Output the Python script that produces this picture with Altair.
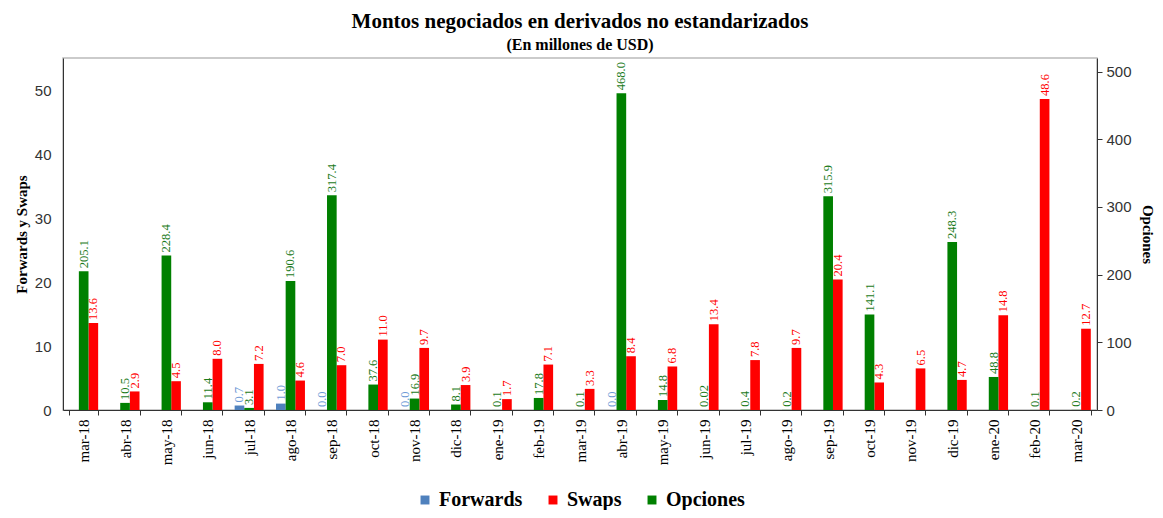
import altair as alt
import pandas as pd

months = ["mar-18", "abr-18", "may-18", "jun-18", "jul-18", "ago-18", "sep-18", "oct-18",
          "nov-18", "dic-18", "ene-19", "feb-19", "mar-19", "abr-19", "may-19", "jun-19",
          "jul-19", "ago-19", "sep-19", "oct-19", "nov-19", "dic-19", "ene-20", "feb-20", "mar-20"]

forwards = [None, None, None, None, 0.7, 1.0, 0.0, None, 0.0, None, None, None, None,
            0.0, None, None, None, None, None, None, None, None, None, None, None]
swaps = [13.6, 2.9, 4.5, 8.0, 7.2, 4.6, 7.0, 11.0, 9.7, 3.9, 1.7, 7.1, 3.3,
         8.4, 6.8, 13.4, 7.8, 9.7, 20.4, 4.3, 6.5, 4.7, 14.8, 48.6, 12.7]
opciones = [205.1, 10.5, 228.4, 11.4, 3.1, 190.6, 317.4, 37.6, 16.9, 8.1, 0.1, 17.8, 0.1,
            468.0, 14.8, 0.02, 0.4, 0.2, 315.9, 141.1, None, 248.3, 48.8, 0.1, 0.2]

series_names = ["Forwards", "Swaps", "Opciones"]
bar_colors = ["#4F81BD", "#FF0000", "#008000"]
label_colors = {"Forwards": "#6E9AD6", "Swaps": "#FF0000", "Opciones": "#1A7A1A"}


def fmt(v):
    if v == 0.02:
        return "0.02"
    return f"{v:.1f}"


rows = []
for name, vals in zip(series_names, [forwards, swaps, opciones]):
    for m, v in zip(months, vals):
        if v is None:
            continue
        rows.append({"mes": m, "serie": name, "valor": v, "etiqueta": fmt(v),
                     "col": label_colors[name]})
df = pd.DataFrame(rows)

SERIF = "Liberation Serif"
SANS = "Liberation Sans"

x_enc = alt.X("mes:N", sort=months,
              scale=alt.Scale(paddingInner=0.3, paddingOuter=0.15),
              axis=alt.Axis(title=None, labelAngle=270, labelFont=SERIF, labelFontSize=15,
                            labelColor="#000", tickBand="extent", domainColor="#333",
                            tickColor="#333", labelPadding=4, labelAlign="right",
                            labelBaseline="middle"))
xoff = alt.XOffset("serie:N", scale=alt.Scale(domain=["Forwards", "Opciones", "Swaps"]))
color_enc = alt.Color("serie:N", scale=alt.Scale(domain=series_names, range=bar_colors),
                      legend=alt.Legend(title=None, orient="none", direction="horizontal",
                                        legendX=352, legendY=432, symbolType="square",
                                        symbolSize=80, labelFont=SERIF, labelFontSize=20,
                                        labelFontWeight="bold", columnPadding=20,
                                        labelOffset=4, symbolStrokeWidth=0))

base = alt.Chart(df)

left_data = base.transform_filter(alt.FieldOneOfPredicate(field="serie", oneOf=["Forwards", "Swaps"]))
right_data = base.transform_filter(alt.datum.serie == "Opciones")

y_left = alt.Y("valor:Q", scale=alt.Scale(domain=[0, 55], nice=False),
               axis=alt.Axis(orient="left", title="Forwards y Swaps", titleFont=SERIF,
                             titleFontSize=15, titleFontWeight="bold", titleColor="#000",
                             labelFont=SANS, labelFontSize=15, labelColor="#333",
                             values=[0, 10, 20, 30, 40, 50], ticks=False, grid=False,
                             domainColor="#333", labelPadding=12, titlePadding=5))
y_right = alt.Y("valor:Q", scale=alt.Scale(domain=[0, 520], nice=False),
                axis=alt.Axis(orient="right", title="Opciones", titleFont=SERIF,
                              titleFontSize=15, titleFontWeight="bold", titleColor="#000",
                              labelFont=SANS, labelFontSize=15, labelColor="#333",
                              values=[0, 100, 200, 300, 400, 500], ticks=True, tickSize=5,
                              grid=False, domainColor="#333", tickColor="#333",
                              labelPadding=4, titlePadding=8))

bars_l = left_data.mark_bar().encode(x=x_enc, xOffset=xoff, y=y_left, color=color_enc)
text_l = left_data.mark_text(angle=270, align="left", baseline="middle", dx=3,
                             font=SERIF, fontSize=12.5).encode(
    x=x_enc, xOffset=xoff, y=y_left, text="etiqueta:N", color=alt.Color("col:N", scale=None))

bars_r = right_data.mark_bar().encode(x=x_enc, xOffset=xoff, y=y_right, color=color_enc)
text_r = right_data.mark_text(angle=270, align="left", baseline="middle", dx=3,
                              font=SERIF, fontSize=12.5).encode(
    x=x_enc, xOffset=xoff, y=y_right, text="etiqueta:N", color=alt.Color("col:N", scale=None))

chart = alt.layer(
    alt.layer(bars_l, text_l),
    alt.layer(bars_r, text_r),
).resolve_scale(y="independent").properties(
    width=1034, height=352,
    autosize=alt.AutoSizeParams(type="none"),
    padding={"left": 55, "top": 50, "right": 58, "bottom": 100},
    title=alt.TitleParams(text="Montos negociados en derivados no estandarizados",
                          subtitle="(En millones de USD)", font=SERIF, fontSize=21,
                          fontWeight="bold", subtitleFont=SERIF, subtitleFontSize=16,
                          subtitleFontWeight="bold", color="#000", subtitleColor="#000",
                          anchor="middle", offset=5, subtitlePadding=5),
).configure_view(stroke="#BBBBBB", strokeWidth=1.5)

chart.save("out.html", embed_options={"renderer": "svg", "actions": False})
